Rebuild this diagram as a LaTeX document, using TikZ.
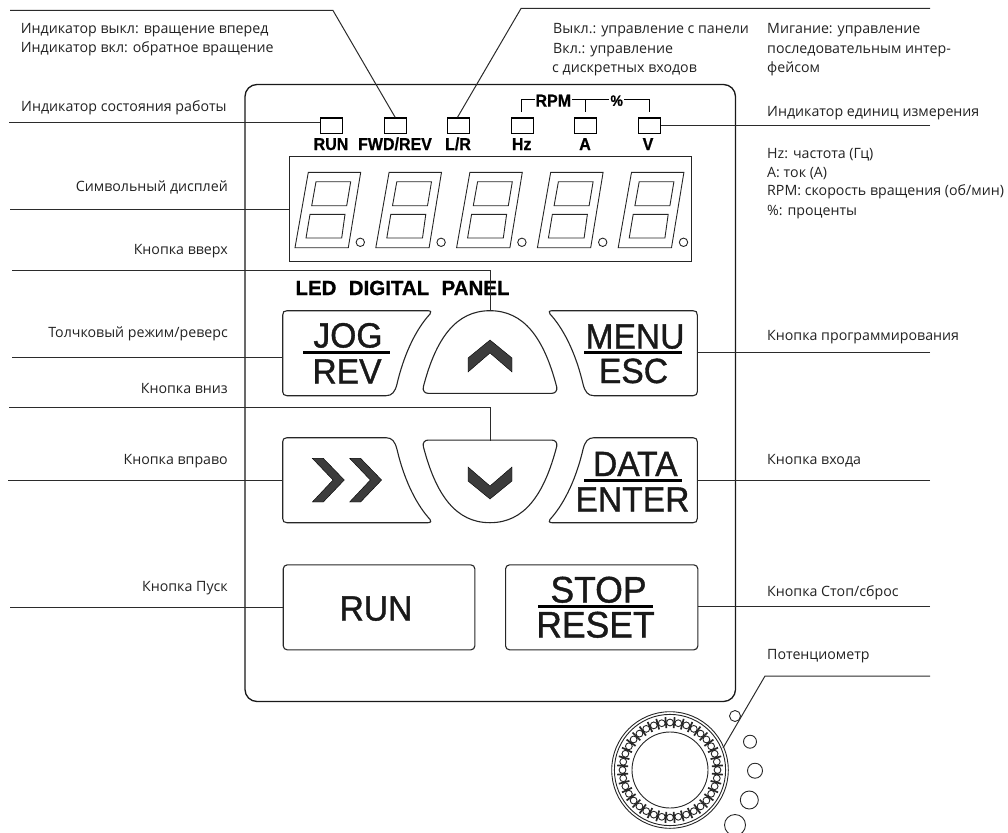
\documentclass[tikz,border=0pt]{standalone}
\usepackage{fontspec}
\setmainfont{Open Sans}
\newfontfamily\btnfont[FakeBold=1.1]{Liberation Sans}
\newfontfamily\tagfont[BoldFont={Liberation Sans Bold},BoldFeatures={FakeBold=0.9}]{Liberation Sans}
\usetikzlibrary{calc}
\definecolor{ln}{HTML}{2B2B2B}
\definecolor{txt}{HTML}{222222}
\definecolor{chev}{HTML}{3C3C3C}
\tikzset{
  lead/.style={draw=ln,line width=1pt},
  panelline/.style={draw=black!90,line width=1.3pt},
  btn/.style={draw=black!85,line width=1.1pt},
  led/.style={draw=black,line width=1.3pt,minimum width=22pt,minimum height=15.5pt,inner sep=0pt,anchor=north west},
  lab/.style={font=\fontsize{14.2}{16}\selectfont,text=txt,inner sep=0pt,yshift=-2.5pt},
  labl/.style={lab,anchor=mid west},
  labr/.style={lab,anchor=mid east},
  tag/.style={font=\tagfont\bfseries\fontsize{16}{18}\selectfont,inner sep=0pt,anchor=base,text=black,transform shape,yscale=1.08},
  capt/.style={font=\btnfont\fontsize{35}{35}\selectfont,inner sep=0pt,anchor=base,text=black!90,transform shape,xscale=.96},
  rulebar/.style={draw=black,line width=3pt},
  seg/.style={draw=black!85,line width=.9pt},
  chevron/.style={fill=chev,draw=black,line width=.4pt},
  rim/.style={draw=black!85,line width=.9pt},
}
\newcommand{\jogshape}{(282.7,315) .. controls (282.7,312) and (284,310.7) .. (287,310.7) -- (428,310.7) .. controls (431,310.7) and (431.5,312.5) .. (430,314) .. controls (418,327) and (405,350) .. (397,384) .. controls (395,392) and (392,395.7) .. (386,395.7) -- (287,395.7) .. controls (284,395.7) and (282.7,394) .. (282.7,391.7) -- cycle}
\newcommand{\domeshape}{(423.3,387) .. controls (436,338) and (456,310.7) .. (490,310.7) .. controls (524,310.7) and (544,338) .. (556.7,387) .. controls (557.5,391) and (555,393.3) .. (552,393.3) -- (428,393.3) .. controls (425,393.3) and (422.5,391) .. (423.3,387) -- cycle}
\newcommand{\digitshape}{
  \draw[seg] (308.3,172.3) -- (360.7,172.3) -- (348.3,247.7) -- (295,247.7) -- cycle;
  \draw[seg] (316,181.7) -- (350.7,181.7) -- (346.7,205.7) -- (311.7,205.7) -- cycle;
  \draw[seg] (310,214.3) -- (345,214.3) -- (341.7,238) -- (306,238) -- cycle;
  \draw[seg] (360.3,242.3) circle[radius=4.2];
}
\begin{document}
\begin{tikzpicture}[x=1pt,y=-1pt]
\useasboundingbox (0,0) rectangle (1008,832);
% panel
\draw[panelline,rounded corners=12pt] (245,84.5) rectangle (735.5,701.5);
% LEDs
\node[led] (ledrun) at (320,117.3) {};
\node[led] (ledfwd) at (383.5,117.3) {};
\node[led] (ledlr) at (447,117.3) {};
\node[led] (ledhz) at (510.5,117.3) {};
\node[led] (leda) at (574,117.3) {};
\node[led] (ledv) at (638,117.3) {};
\node[tag] (trun) at (331,150) {RUN};
\node[tag] (tfwd) at (395,150) {FWD/REV};
\node[tag] (tlr) at (458,150) {L/R};
\node[tag] (thz) at (521.7,150) {Hz};
\node[tag] (ta) at (585,150) {A};
\node[tag] (tv) at (648,150) {V};
% RPM bracket
\coordinate (bm) at (585,112);
\draw[draw=black,line width=1pt] (521.7,111.7) -- (521.7,100) -- (649,100) -- (649,111.7);
\draw[draw=black,line width=1pt] (bm) -- (585,100);
\node[tag,fill=white,anchor=center,inner xsep=1pt] (trpm) at (553.3,100.7) {RPM};
\node[tag,font=\tagfont\bfseries\fontsize{14}{16}\selectfont,fill=white,anchor=center,inner xsep=1pt] (tpct) at (616.7,100.7) {\%};
% display
\node[draw=black!85,line width=1.1pt,minimum width=402pt,minimum height=105pt,inner sep=0pt,anchor=north west] (disp) at (289,155.7) {};
\foreach \i in {0,...,4}{
  \begin{scope}[xshift=\i*80.8pt]
  \digitshape
  \end{scope}
}
\node[font=\tagfont\bfseries\fontsize{20.5}{22}\selectfont,inner sep=0pt,anchor=base] (ledpanel) at (402.5,295) {LED\hspace{12.3pt}DIGITAL\hspace{12.3pt}PANEL};
% buttons
\draw[btn] \jogshape;
\begin{scope}[xshift=980pt,xscale=-1]\draw[btn] \jogshape;\end{scope}
\begin{scope}[yshift=-833.4pt,yscale=-1]\draw[btn] \jogshape;\end{scope}
\begin{scope}[xshift=980pt,xscale=-1,yshift=-833.4pt,yscale=-1]\draw[btn] \jogshape;\end{scope}
\draw[btn] \domeshape;
\begin{scope}[yshift=-833.4pt,yscale=-1]\draw[btn] \domeshape;\end{scope}
\coordinate (bjog) at (282.7,357.7);
\coordinate (bup) at (490,310.7);
\coordinate (bmenu) at (697.3,352.7);
\coordinate (bdown) at (490,440.5);
\coordinate (bright) at (282.7,480);
\coordinate (bdata) at (697.3,480.7);
\node[btn,rounded corners=4pt,minimum width=191.6pt,minimum height=85pt,inner sep=0pt,anchor=north west] (brun) at (282.7,564.3) {};
\node[btn,rounded corners=4pt,minimum width=192.3pt,minimum height=85pt,inner sep=0pt,anchor=north west] (bstop) at (505,564.3) {};
% button captions
\node[capt] (cjog) at (348,347.5) {JOG};
\draw[rulebar] (303.3,352.7) -- (390,352.7);
\node[capt] (crev) at (347,383.5) {REV};
\node[capt] (cmenu) at (635,348.5) {MENU};
\draw[rulebar] (584.3,352.7) -- (681.7,352.7);
\node[capt] (cesc) at (633.5,383) {ESC};
\node[capt] (cdata) at (635.3,476) {DATA};
\draw[rulebar] (584.3,480.7) -- (681.7,480.7);
\node[capt] (center1) at (632.5,511.5) {ENTER};
\node[capt] (crun) at (376,620.5) {RUN};
\node[capt,font=\btnfont\fontsize{37}{37}\selectfont] (cstop) at (598.5,602.5) {STOP};
\draw[rulebar] (538,606.7) -- (653,606.7);
\node[capt,font=\btnfont\fontsize{37}{37}\selectfont] (creset) at (595.5,637.5) {RESET};
% chevrons
\fill[chevron] (468,358) -- (490,340) -- (512,358) -- (512,372) -- (490,353) -- (468,372) -- cycle;
\fill[chevron] (468,467) -- (490,486) -- (512,467) -- (512,481) -- (490,499) -- (468,481) -- cycle;
\foreach \dx in {0,37.3}{
  \fill[chevron,xshift=\dx pt] (312.3,458.3) -- (323.3,458.3) -- (344.3,480) -- (323.3,502) -- (312.3,502) -- (333,480) -- cycle;
}
% potentiometer
\coordinate (pot) at (670,770);
\draw[rim] (pot) circle[radius=58.3];
\draw[rim] (pot) circle[radius=55.6];
\draw[rim] (pot) circle[radius=38];
\foreach \a in {0,10,...,350}{
  \draw[draw=black!85,line width=.9pt] ($(pot)+(\a:47.5)$) circle[radius=3.4];
  \draw[draw=black!85,line width=1.7pt] ($(pot)+(\a+5:42)$) -- ($(pot)+(\a+5:53)$);
}
\draw[rim] (735,716) circle[radius=5.5];
\draw[rim] (750,741.7) circle[radius=6.5];
\draw[rim] (755,770.7) circle[radius=7.5];
\draw[rim] (749.3,800) circle[radius=9];
\draw[rim] (735,825) circle[radius=10.5];
% leaders
\coordinate (e1) at (10,10.5);
\coordinate (k1) at (333,10.5);
\draw[lead] (e1) -- (k1) -- (ledfwd.north);
\coordinate (e2) at (930,8.5);
\coordinate (k2) at (521,8.5);
\coordinate (lrtop) at (457.5,117.3);
\draw[lead] (e2) -- (k2) -- (lrtop);
\coordinate (e3) at (9,122.5);
\draw[lead] (e3) -- (e3 -| ledrun.west);
\coordinate (e4) at (930,125);
\draw[lead] (e4) -- (e4 -| ledv.east);
\coordinate (e5) at (10,209);
\draw[lead] (e5) -- (e5 -| disp.west);
\coordinate (e6) at (12,270.5);
\draw[lead] (e6) -| (bup);
\coordinate (e7) at (12,357.7);
\draw[lead] (e7) -- (bjog);
\coordinate (e8) at (9,407.7);
\draw[lead] (e8) -| (bdown);
\coordinate (e9) at (8,480);
\draw[lead] (e9) -- (bright);
\coordinate (e10) at (10,607);
\draw[lead] (e10) -- (e10 -| brun.west);
\coordinate (e11) at (930,352.7);
\draw[lead] (e11) -- (bmenu);
\coordinate (e12) at (930,480.7);
\draw[lead] (e12) -- (bdata);
\coordinate (e13) at (930,606.7);
\draw[lead] (e13) -- (e13 -| bstop.east);
\coordinate (e14) at (930,676);
\coordinate (k14) at (765,676);
\coordinate (potrim) at (723,748);
\draw[lead] (e14) -- (k14) -- (potrim);
% labels
\node[labl] (l1) at (20.7,28) {Индикатор выкл: вращение вперед};
\node[labl] (l2) at (20.7,47.5) {Индикатор вкл: обратное вращение};
\node[labl] (l3) at (21,106.7) {Индикатор состояния работы};
\node[labr] (l4) at (228,186.7) {Символьный дисплей};
\node[labr] (l5) at (228,249) {Кнопка вверх};
\node[labr] (l6) at (228,332.7) {Толчковый режим/реверс};
\node[labr] (l7) at (228,388) {Кнопка вниз};
\node[labr] (l8) at (228,459) {Кнопка вправо};
\node[labr] (l9) at (228,586) {Кнопка Пуск};
\node[labl] (r1) at (553,28) {Выкл.: управление с панели};
\node[labl] (r2) at (553,48) {Вкл.: управление};
\node[labl] (r3) at (552,67.7) {с дискретных входов};
\node[labl] (m1) at (767,28) {Мигание: управление};
\node[labl] (m2) at (767,48) {последовательным интер-};
\node[labl] (m3) at (767,67.7) {фейсом};
\node[labl] (m4) at (767,111) {Индикатор единиц измерения};
\node[labl] (h1) at (767,153.3) {Hz: частота (Гц)};
\node[labl] (h2) at (767,172.3) {A: ток (А)};
\node[labl] (h3) at (767,190.7) {RPM: скорость вращения (об/мин)};
\node[labl] (h4) at (767,210) {\%: проценты};
\node[labl] (q1) at (767,335) {Кнопка программирования};
\node[labl] (q2) at (767,459) {Кнопка входа};
\node[labl] (q3) at (767,591.7) {Кнопка Стоп/сброс};
\node[labl] (q4) at (767,654) {Потенциометр};
\end{tikzpicture}
\end{document}
